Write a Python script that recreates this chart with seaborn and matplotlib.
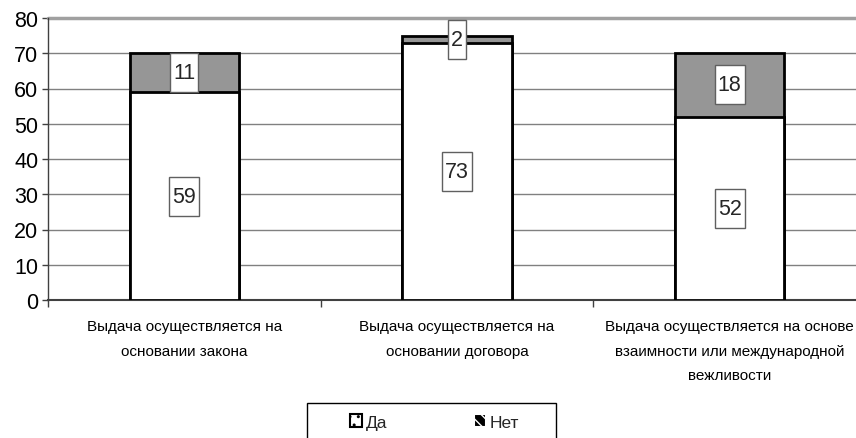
import matplotlib
matplotlib.use("Agg")
import matplotlib.pyplot as plt
import seaborn as sns
import pandas as pd
import numpy as np
from matplotlib.patches import Patch, Rectangle

categories = [
    "Выдача осуществляется на\nосновании закона",
    "Выдача осуществляется на\nосновании договора",
    "Выдача осуществляется на основе\nвзаимности или международной\nвежливости",
]
da_values = [59, 73, 52]
net_values = [11, 2, 18]
yticks = [0, 10, 20, 30, 40, 50, 60, 70, 80]

sns.set_theme(style="white")
plt.rcParams['font.family'] = ['Liberation Sans', 'DejaVu Sans']

df = pd.DataFrame({"cat": categories, "da": da_values, "net": net_values})
df["total"] = df["da"] + df["net"]

fig = plt.figure(figsize=(8.56, 4.39), dpi=100)
ax = fig.add_axes([48/856, (439-301)/439, (866-48)/856, (301-19)/439])

sns.barplot(data=df, x="cat", y="total", color="#969696", width=0.4,
            edgecolor="black", linewidth=2, saturation=1, ax=ax, zorder=3)
sns.barplot(data=df, x="cat", y="da", color="white", width=0.4,
            edgecolor="black", linewidth=2, saturation=1, ax=ax, zorder=4)

ax.set_ylim(0, 80)
ax.set_xlim(-0.5, 2.5)
ax.set_yticks(yticks)
ax.set_yticklabels([str(t) for t in yticks], fontsize=15.5, color="black")
ax.yaxis.grid(True, color="#808080", linewidth=1, zorder=0)
ax.set_axisbelow(True)
ax.tick_params(axis="y", which="major", left=True, length=4, width=1, color="#404040", pad=3)
ax.set_xticks(range(len(categories)))
ax.set_xticklabels(categories, fontsize=11, linespacing=1.95, color="black")
ax.tick_params(axis="x", which="major", bottom=False, pad=8)
ax.set_xticks([-0.5, 0.5, 1.5, 2.5], minor=True)
ax.tick_params(axis="x", which="minor", bottom=True, length=5, width=1, color="#404040")
ax.set_xlabel("")
ax.set_ylabel("")

for s in ["top", "right"]:
    ax.spines[s].set_visible(False)
ax.spines["left"].set_color("#404040")
ax.spines["left"].set_linewidth(1)
ax.spines["bottom"].set_color("#404040")
ax.spines["bottom"].set_linewidth(1.5)
ax.axhline(80, color="#a0a0a0", linewidth=2.5, zorder=1, clip_on=False)

texts = []
for i, (d, n) in enumerate(zip(da_values, net_values)):
    texts.append(ax.text(i, d / 2, str(d), ha="center", va="center", fontsize=15.5, zorder=7))
    texts.append(ax.text(i, d + n / 2, str(n), ha="center", va="center", fontsize=15.5, zorder=7))

fig.canvas.draw()
renderer = fig.canvas.get_renderer()
for t in texts:
    bb = t.get_window_extent(renderer)
    cx = (bb.x0 + bb.x1) / 2
    x, y = t.get_position()
    cy = ax.transData.transform((x, y))[1]
    w = bb.width + 6
    h = 39
    r = Rectangle((cx - w / 2, cy - h / 2), w, h, transform=None,
                  facecolor="white", edgecolor="#606060", linewidth=1, zorder=6)
    fig.add_artist(r)
    t.set_zorder(8)
    t.remove()
    fig.add_artist(t)
    t.set_transform(ax.transData)

# legend frame
fig.add_artist(Rectangle((307/856, -0.05), (556-307)/856, 0.05 + (439-404)/439,
                         transform=fig.transFigure, facecolor="white",
                         edgecolor="black", linewidth=1, zorder=1))

handles = [
    Patch(facecolor="white", edgecolor="black", hatch="..", linewidth=1.5, label="Да"),
    Patch(facecolor="black", edgecolor="white", hatch="\\\\\\", linewidth=1.5, label="Нет"),
]
leg = fig.legend(handles=handles, loc="center left", bbox_to_anchor=(350/856, 1 - 423/439),
                 ncol=2, fontsize=12.5, frameon=False,
                 handlelength=0.7, handleheight=0.7, handletextpad=0.2,
                 columnspacing=5.0, borderpad=0, borderaxespad=0)
leg.set_zorder(5)

fig.savefig("out.png", dpi=100)
